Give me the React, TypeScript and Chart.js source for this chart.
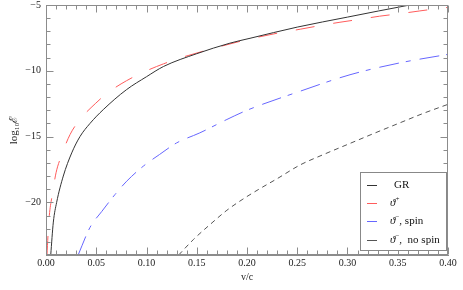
import React, { useEffect, useRef } from 'react';
import { Chart, registerables } from 'chart.js';
Chart.register(...registerables);

// GR (solid)
const grV = [0.0047, 0.0073, 0.0106, 0.0172, 0.0256, 0.0338, 0.0438, 0.057, 0.08, 0.1, 0.117, 0.15, 0.183, 0.203, 0.25, 0.3, 0.362, 0.4];
const grY = [-24, -21.5, -20, -18, -16.24, -15.0, -14.0, -12.95, -11.44, -10.45, -9.67, -8.7, -7.9, -7.53, -6.68, -5.92, -5.0, -4.5];
// theta+ (red dashed)
const tpV = [0.001, 0.002, 0.0033, 0.0063, 0.01, 0.0156, 0.0239, 0.0338, 0.049, 0.062, 0.08, 0.0985, 0.117, 0.135, 0.155, 0.173, 0.203, 0.233, 0.253, 0.273, 0.2925, 0.312, 0.332, 0.352, 0.372, 0.392, 0.4];
const tpY = [-24, -22.5, -21.0, -19.4, -17.75, -16.4, -14.85, -13.7, -12.5, -11.64, -10.76, -10.05, -9.47, -8.99, -8.54, -8.16, -7.58, -7.1, -6.84, -6.56, -6.31, -6.09, -5.85, -5.66, -5.45, -5.25, -5.18];
// theta- spin (blue dash-dot)
const tsV = [0.032, 0.0438, 0.0554, 0.0687, 0.0803, 0.0968, 0.113, 0.13, 0.153, 0.18, 0.2, 0.253, 0.3025, 0.352, 0.4];
const tsY = [-24, -21.9, -20.7, -19.4, -18.39, -17.25, -16.36, -15.48, -14.72, -13.7, -13.0, -11.55, -10.3, -9.4, -8.75];
// theta- no spin (black dashed)
const tnV = [0.132, 0.147, 0.163, 0.18, 0.196, 0.213, 0.23, 0.253, 0.275, 0.3, 0.325, 0.352, 0.375, 0.4];
const tnY = [-24, -22.8, -21.7, -20.6, -19.75, -18.95, -18.2, -17.15, -16.4, -15.6, -14.8, -13.96, -13.25, -12.55];

const seriesLabels = ['GR', 'ϑ⁺', 'ϑ⁻, spin', 'ϑ⁻,  no spin'];
const xTitle = 'v/c';
const yTitle = 'log₁₀ℰ';

const colors = ['#333333', '#ff5c5c', '#6666ff', '#555555'];
const dashes: number[][] = [[], [19, 19], [20, 7, 5, 9], [5, 4]];

const SERIF = '"Liberation Serif", "DejaVu Serif", serif';

const toPts = (xs: number[], ys: number[]) => xs.map((x, i) => ({ x, y: ys[i] }));

const frameTicks = {
  id: 'frameTicks',
  afterDraw(chart: any) {
    const { ctx, chartArea: a, scales } = chart;
    const xs = scales.x, ys = scales.y;
    ctx.save();
    ctx.strokeStyle = '#8c8c8c';
    ctx.lineWidth = 1;
    const L = Math.floor(a.left) + 0.5, T = Math.floor(a.top) + 0.5;
    const R = Math.floor(a.right) - 0.5, B = Math.floor(a.bottom) - 0.5;
    ctx.strokeRect(L, T, R - L, B - T);
    ctx.beginPath();
    for (let i = 0; i < xs.ticks.length; i++) {
      const v = xs.ticks[i].value;
      const px = Math.round(xs.getPixelForValue(v)) + 0.5;
      const len = Math.round(v * 100) % 5 === 0 ? 7 : 4;
      ctx.moveTo(px, B); ctx.lineTo(px, B - len);
      ctx.moveTo(px, T); ctx.lineTo(px, T + len);
    }
    for (let i = 0; i < ys.ticks.length; i++) {
      const v = ys.ticks[i].value;
      const py = Math.round(ys.getPixelForValue(v)) + 0.5;
      const len = Math.round(v) % 5 === 0 ? 7 : 4;
      ctx.moveTo(L, py); ctx.lineTo(L + len, py);
      ctx.moveTo(R, py); ctx.lineTo(R - len, py);
    }
    ctx.stroke();

    // legend
    const bx = 360.5, by = 172.5, bw = 86, bh = 78;
    ctx.fillStyle = '#ffffff';
    ctx.fillRect(bx, by, bw, bh);
    ctx.strokeStyle = '#888888';
    ctx.strokeRect(bx, by, bw, bh);
    const rows = [185, 203, 221, 240];
    seriesLabels.forEach((lab, i) => {
      const y = rows[i];
      ctx.strokeStyle = colors[i];
      ctx.beginPath();
      ctx.moveTo(367, y + 0.5);
      ctx.lineTo(377, y + 0.5);
      ctx.stroke();
      ctx.fillStyle = '#111';
      ctx.textBaseline = 'middle';
      ctx.textAlign = 'left';
      let x = i === 0 ? 394 : 390;
      if (lab.startsWith('ϑ')) {
        ctx.font = 'italic 11px ' + SERIF;
        ctx.fillText('ϑ', x, y);
        x += ctx.measureText('ϑ').width;
        const sup = lab.charAt(1) === '⁺' ? '+' : '−';
        ctx.font = '7px ' + SERIF;
        ctx.fillText(sup, x, y - 4);
        x += ctx.measureText(sup).width;
        ctx.font = '11px ' + SERIF;
        ctx.fillText(lab.slice(2), x, y);
      } else {
        ctx.font = '11px ' + SERIF;
        ctx.fillText(lab, x, y);
      }
    });
    ctx.restore();
  },
};

export default function App() {
  const ref = useRef<HTMLCanvasElement | null>(null);
  useEffect(() => {
    if (!ref.current) return;
    const sets = [toPts(grV, grY), toPts(tpV, tpY), toPts(tsV, tsY), toPts(tnV, tnY)];
    const chart = new Chart(ref.current, {
      type: 'line',
      data: {
        datasets: sets.map((d, i) => ({
          label: seriesLabels[i],
          data: d,
          borderColor: colors[i],
          borderWidth: 1,
          borderDash: dashes[i],
          pointRadius: 0,
          fill: false,
          cubicInterpolationMode: 'monotone' as const,
        })),
      },
      options: {
        animation: false,
        responsive: true,
        maintainAspectRatio: false,
        layout: { padding: { left: 0, right: 15, top: 5, bottom: 0 } },
        plugins: { legend: { display: false }, tooltip: { enabled: false } },
        scales: {
          x: {
            type: 'linear',
            min: 0,
            max: 0.4,
            grid: { display: false, drawTicks: false },
            border: { display: true, color: '#8c8c8c', width: 1 },
            afterFit: (s: any) => { s.height = 35; },
            ticks: {
              stepSize: 0.01,
              maxTicksLimit: 100,
              autoSkip: false,
              maxRotation: 0,
              padding: 2,
              color: '#222',
              font: { family: SERIF, size: 10 },
              callback: (v: any) => (Math.round(Number(v) * 100) % 5 === 0 ? Number(v).toFixed(2) : ''),
            },
            title: { display: true, text: xTitle, color: '#222', font: { family: SERIF, size: 10 }, padding: { top: 0, bottom: 7 } },
          },
          y: {
            type: 'linear',
            min: -24,
            max: -5,
            grid: { display: false, drawTicks: false },
            border: { display: true, color: '#8c8c8c', width: 1 },
            afterFit: (s: any) => { s.width = 46; s.paddingTop = 0; s.paddingBottom = 0; },
            ticks: {
              stepSize: 1,
              maxTicksLimit: 100,
              autoSkip: false,
              padding: 5,
              color: '#222',
              font: { family: SERIF, size: 10 },
              callback: (v: any) => (Math.round(Number(v)) % 5 === 0 ? '−' + Math.abs(Number(v)) : ''),
            },
            title: { display: true, text: yTitle, color: '#222', font: { family: SERIF, size: 11 }, padding: { top: 8, bottom: 0 } },
          },
        },
      },
      plugins: [frameTicks],
    });
    return () => chart.destroy();
  }, []);
  return (
    <div style={{ position: 'absolute', left: 0, top: 0, width: 463, height: 290, background: '#fff' }}>
      <canvas ref={ref} />
    </div>
  );
}
